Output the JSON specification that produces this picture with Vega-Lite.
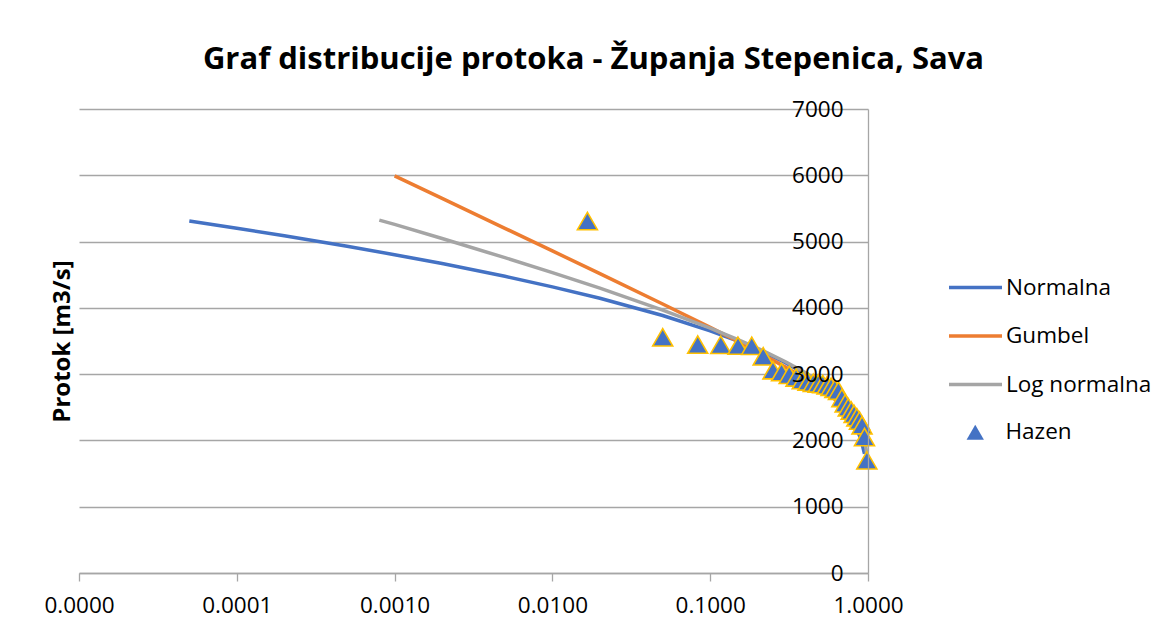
{
  "$schema": "https://vega.github.io/schema/vega-lite/v6.json",
  "width": 789,
  "height": 464,
  "autosize": {"type": "none"},
  "padding": {"left": 79, "top": 109, "right": 299, "bottom": 60},
  "background": "white",
  "title": {
    "text": "Graf distribucije protoka - Županja Stepenica, Sava",
    "font": "Open Sans",
    "fontSize": 31,
    "fontWeight": "bold",
    "color": "#000000",
    "anchor": "middle",
    "dx": 120,
    "offset": 22
  },
  "data": {
    "values": [
      {"series": "Normalna", "p": 0.00005, "q": 5311},
      {"series": "Normalna", "p": 0.0001, "q": 5202},
      {"series": "Normalna", "p": 0.0002, "q": 5088},
      {"series": "Normalna", "p": 0.0005, "q": 4930},
      {"series": "Normalna", "p": 0.001, "q": 4802},
      {"series": "Normalna", "p": 0.002, "q": 4668},
      {"series": "Normalna", "p": 0.005, "q": 4476},
      {"series": "Normalna", "p": 0.01, "q": 4317},
      {"series": "Normalna", "p": 0.02, "q": 4144},
      {"series": "Normalna", "p": 0.05, "q": 3885},
      {"series": "Normalna", "p": 0.1, "q": 3654},
      {"series": "Normalna", "p": 0.15, "q": 3498},
      {"series": "Normalna", "p": 0.2, "q": 3374},
      {"series": "Normalna", "p": 0.3, "q": 3173},
      {"series": "Normalna", "p": 0.4, "q": 3001},
      {"series": "Normalna", "p": 0.5, "q": 2840},
      {"series": "Normalna", "p": 0.6, "q": 2679},
      {"series": "Normalna", "p": 0.7, "q": 2507},
      {"series": "Normalna", "p": 0.8, "q": 2306},
      {"series": "Normalna", "p": 0.9, "q": 2026},
      {"series": "Normalna", "p": 0.95, "q": 1796},
      {"series": "Gumbel", "p": 0.001, "q": 5992},
      {"series": "Gumbel", "p": 0.002, "q": 5651},
      {"series": "Gumbel", "p": 0.005, "q": 5200},
      {"series": "Gumbel", "p": 0.01, "q": 4859},
      {"series": "Gumbel", "p": 0.02, "q": 4516},
      {"series": "Gumbel", "p": 0.05, "q": 4058},
      {"series": "Gumbel", "p": 0.1, "q": 3705},
      {"series": "Gumbel", "p": 0.15, "q": 3492},
      {"series": "Gumbel", "p": 0.2, "q": 3336},
      {"series": "Gumbel", "p": 0.3, "q": 3106},
      {"series": "Gumbel", "p": 0.4, "q": 2930},
      {"series": "Gumbel", "p": 0.5, "q": 2780},
      {"series": "Gumbel", "p": 0.6, "q": 2643},
      {"series": "Gumbel", "p": 0.7, "q": 2509},
      {"series": "Gumbel", "p": 0.8, "q": 2366},
      {"series": "Gumbel", "p": 0.9, "q": 2190},
      {"series": "Gumbel", "p": 0.95, "q": 2061},
      {"series": "Gumbel", "p": 0.983, "q": 1910},
      {"series": "Log normalna", "p": 0.0008, "q": 5323},
      {"series": "Log normalna", "p": 0.001, "q": 5259},
      {"series": "Log normalna", "p": 0.002, "q": 5046},
      {"series": "Log normalna", "p": 0.005, "q": 4757},
      {"series": "Log normalna", "p": 0.01, "q": 4531},
      {"series": "Log normalna", "p": 0.02, "q": 4297},
      {"series": "Log normalna", "p": 0.05, "q": 3966},
      {"series": "Log normalna", "p": 0.1, "q": 3695},
      {"series": "Log normalna", "p": 0.15, "q": 3522},
      {"series": "Log normalna", "p": 0.2, "q": 3391},
      {"series": "Log normalna", "p": 0.3, "q": 3188},
      {"series": "Log normalna", "p": 0.4, "q": 3024},
      {"series": "Log normalna", "p": 0.5, "q": 2879},
      {"series": "Log normalna", "p": 0.6, "q": 2741},
      {"series": "Log normalna", "p": 0.7, "q": 2600},
      {"series": "Log normalna", "p": 0.8, "q": 2443},
      {"series": "Log normalna", "p": 0.9, "q": 2242},
      {"series": "Log normalna", "p": 0.95, "q": 2060},
      {"series": "Log normalna", "p": 0.983, "q": 1780},
      {"series": "Hazen", "p": 0.016667, "q": 5310},
      {"series": "Hazen", "p": 0.05, "q": 3556},
      {"series": "Hazen", "p": 0.083333, "q": 3446},
      {"series": "Hazen", "p": 0.116667, "q": 3443},
      {"series": "Hazen", "p": 0.15, "q": 3430},
      {"series": "Hazen", "p": 0.183333, "q": 3428},
      {"series": "Hazen", "p": 0.216667, "q": 3268},
      {"series": "Hazen", "p": 0.25, "q": 3060},
      {"series": "Hazen", "p": 0.283333, "q": 3030},
      {"series": "Hazen", "p": 0.316667, "q": 2990},
      {"series": "Hazen", "p": 0.35, "q": 2950},
      {"series": "Hazen", "p": 0.383333, "q": 2910},
      {"series": "Hazen", "p": 0.416667, "q": 2890},
      {"series": "Hazen", "p": 0.45, "q": 2870},
      {"series": "Hazen", "p": 0.483333, "q": 2860},
      {"series": "Hazen", "p": 0.516667, "q": 2850},
      {"series": "Hazen", "p": 0.55, "q": 2830},
      {"series": "Hazen", "p": 0.583333, "q": 2810},
      {"series": "Hazen", "p": 0.616667, "q": 2780},
      {"series": "Hazen", "p": 0.65, "q": 2750},
      {"series": "Hazen", "p": 0.683333, "q": 2640},
      {"series": "Hazen", "p": 0.716667, "q": 2560},
      {"series": "Hazen", "p": 0.75, "q": 2500},
      {"series": "Hazen", "p": 0.783333, "q": 2450},
      {"series": "Hazen", "p": 0.816667, "q": 2400},
      {"series": "Hazen", "p": 0.85, "q": 2350},
      {"series": "Hazen", "p": 0.883333, "q": 2300},
      {"series": "Hazen", "p": 0.916667, "q": 2230},
      {"series": "Hazen", "p": 0.95, "q": 2050},
      {"series": "Hazen", "p": 0.983333, "q": 1700}
    ]
  },
  "encoding": {
    "x": {
      "field": "p",
      "type": "quantitative",
      "scale": {"type": "log", "domain": [0.00001, 1]},
      "axis": {
        "values": [0.00001, 0.0001, 0.001, 0.01, 0.1, 1],
        "format": ".4f",
        "title": null,
        "grid": false,
        "domainColor": "#A6A6A6",
        "domainWidth": 1.3,
        "tickColor": "#A6A6A6",
        "tickWidth": 1.3,
        "tickSize": 8,
        "labelFont": "Open Sans",
        "labelFontSize": 22.5,
        "labelColor": "#000000",
        "labelPadding": 13,
        "labelFlush": false,
        "labelOverlap": false,
        "labelBound": false
      }
    }
  },
  "layer": [
    {
      "transform": [{"filter": "datum.series !== 'Hazen'"}],
      "mark": {"type": "line", "strokeWidth": 3.5},
      "encoding": {
        "y": {
          "field": "q",
          "type": "quantitative",
          "scale": {"domain": [0, 7000], "nice": false},
          "axis": {
            "orient": "left",
            "values": [0, 1000, 2000, 3000, 4000, 5000, 6000, 7000],
            "grid": true,
            "gridColor": "#A6A6A6",
            "gridWidth": 1.3,
            "labels": false,
            "ticks": false,
            "domain": false,
            "title": null
          }
        },
        "color": {
          "field": "series",
          "type": "nominal",
          "scale": {
            "domain": ["Normalna", "Gumbel", "Log normalna"],
            "range": ["#4472C4", "#ED7D31", "#A5A5A5"]
          },
          "legend": {
            "orient": "none",
            "legendX": 868,
            "legendY": 150,
            "title": null,
            "padding": 0,
            "symbolType": "stroke",
            "symbolSize": 2809,
            "symbolStrokeWidth": 3.5,
            "labelFont": "Open Sans",
            "labelFontSize": 22.5,
            "labelColor": "#000000",
            "labelOffset": 2,
            "rowPadding": 8.5
          }
        }
      }
    },
    {
      "transform": [{"filter": "datum.series === 'Hazen'"}],
      "mark": {
        "type": "point",
        "filled": true,
        "fill": "#4472C4",
        "stroke": "#FFC000",
        "strokeWidth": 1.6,
        "size": 400,
        "opacity": 1
      },
      "encoding": {
        "y": {
          "field": "q",
          "type": "quantitative",
          "scale": {"domain": [0, 7000], "nice": false},
          "axis": {
            "orient": "right",
            "zindex": 1,
            "values": [0, 1000, 2000, 3000, 4000, 5000, 6000, 7000],
            "format": "d",
            "grid": false,
            "ticks": false,
            "tickSize": 0,
            "domainColor": "#A6A6A6",
            "domainWidth": 1.3,
            "labelAlign": "right",
            "labelPadding": -25,
            "labelFont": "Open Sans",
            "labelFontSize": 22.5,
            "labelColor": "#000000",
            "labelBound": false,
            "labelOverlap": false,
            "title": "Protok [m3/s]",
            "titleFont": "Open Sans",
            "titleFontSize": 24,
            "titleFontWeight": "bold",
            "titleColor": "#000000",
            "titleAngle": 270,
            "titleX": -806,
            "titleY": 232,
            "titleAlign": "center",
            "titleBaseline": "middle"
          }
        },
        "shape": {
          "field": "series",
          "type": "nominal",
          "scale": {"domain": ["Hazen"], "range": ["triangle-up"]},
          "legend": {
            "orient": "none",
            "legendX": 885,
            "legendY": 312,
            "title": null,
            "padding": 0,
            "symbolSize": 300,
            "symbolFillColor": "#4472C4",
            "symbolStrokeColor": "#FFC000",
            "symbolStrokeWidth": 1.5,
            "labelFont": "Open Sans",
            "labelFontSize": 22.5,
            "labelColor": "#000000",
            "labelOffset": 19
          }
        }
      }
    }
  ],
  "resolve": {"axis": {"y": "independent"}, "legend": {"color": "independent", "shape": "independent"}},
  "config": {"view": {"stroke": null}, "font": "Open Sans"}
}
